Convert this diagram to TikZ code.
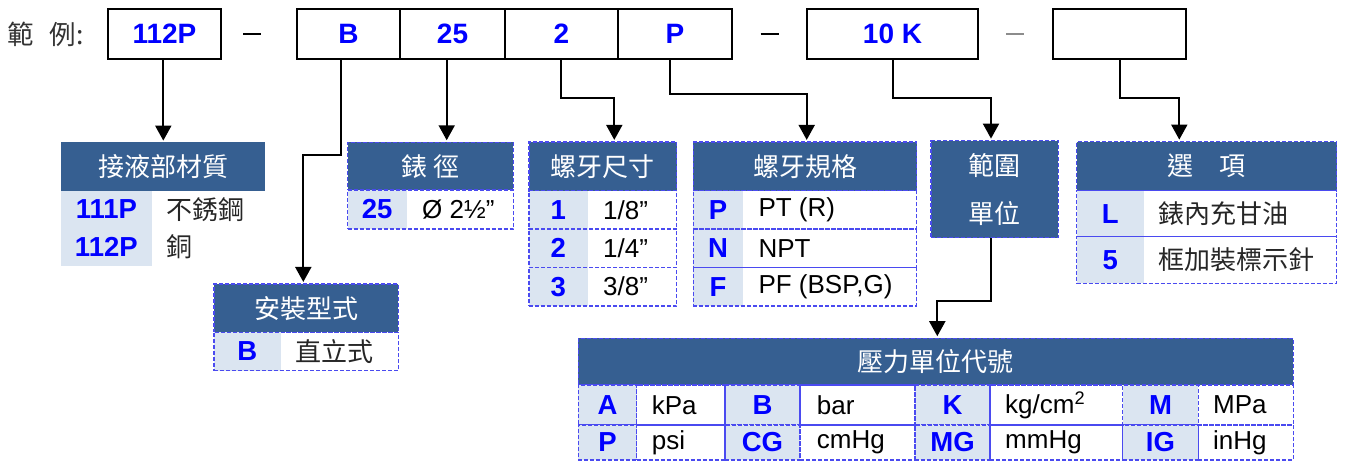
\documentclass[tikz,border=0pt]{standalone}
\usepackage{fontspec}
\setmainfont{Liberation Sans}
\newfontfamily\cjk{Noto Sans CJK TC}
\usetikzlibrary{arrows.meta}
\definecolor{hdrblue}{HTML}{365F91}
\definecolor{codefill}{HTML}{DBE5F1}
\definecolor{codeblue}{HTML}{0000FF}
\definecolor{dashblue}{HTML}{4A4AF0}
\begin{document}
\begin{tikzpicture}[x=1pt,y=-1pt,
 topbox/.style={draw, line width=2.3pt, inner sep=0pt, minimum height=50pt, font=\bfseries\fontsize{28}{32}\selectfont, text=codeblue},
 hdr/.style={fill=hdrblue, text=white, inner sep=0pt, font=\cjk\fontsize{26}{30}\selectfont},
 drow/.style={draw=dashblue, dash pattern=on 4pt off 2pt, line width=1.2pt, inner sep=0pt},
 dhdr/.style={hdr, drow},
 codecell/.style={fill=codefill, text=codeblue, inner sep=0pt, font=\bfseries\fontsize{27.5}{30}\selectfont},
 valtxt/.style={anchor=west, inner sep=0pt, font=\fontsize{26}{30}\selectfont},
 cval/.style={valtxt, font=\cjk\fontsize{26}{30}\selectfont, text=black!85},
 arr/.style={line width=2pt, -{Triangle[width=16pt,length=15pt]}, shorten >=1.5pt},
]
\useasboundingbox (0,0) rectangle (1347,461);

% top code line
\node[font=\cjk\fontsize{26.5}{30}\selectfont, text=black!80, inner sep=0pt, anchor=west] (ex) at (7,34) {範\hspace{0.6em}例:};
\node[topbox, minimum width=113pt] (b112) at (164.5,34) {112P};
\node[topbox, minimum width=103pt] (bB) at (348.5,34) {B};
\node[topbox, minimum width=105pt] (b25) at (452.5,34) {25};
\node[topbox, minimum width=113pt] (b2) at (561.5,34) {2};
\node[topbox, minimum width=114pt] (bP) at (675,34) {P};
\node[topbox, minimum width=171pt] (b10K) at (892.5,34) {10 K};
\node[topbox, minimum width=133pt] (bE) at (1119.5,34) {};
\node[inner sep=0pt] (d1) at (252,34) {\rule{18pt}{1.8pt}};
\node[inner sep=0pt] (d2) at (769.5,34) {\rule{18pt}{1.8pt}};
\node[inner sep=0pt, text=black!45] (d3) at (1015,34) {\rule{18pt}{1.8pt}};

% table 1
\node[hdr, minimum width=204pt, minimum height=48.4pt] (h1) at (163,166.5) {接液部材質};
\node[codecell, minimum width=90.7pt, minimum height=37.5pt] (c1a) at (106.35,209.45) {111P};
\node[codecell, minimum width=90.7pt, minimum height=37.5pt] (c1b) at (106.35,246.95) {112P};
\node[cval] (v1a) at (166.7,209.45) {不銹鋼};
\node[cval] (v1b) at (166.7,246.95) {銅};

% table 2
\node[dhdr, minimum width=184.3pt, minimum height=48.3pt] (h2) at (306.2,308.2) {安裝型式};
\node[codecell, minimum width=66.7pt, minimum height=38.4pt] (c2) at (247.35,351.5) {B};
\node[drow, minimum width=184.3pt, minimum height=38.4pt] (r2) at (306.2,351.5) {};
\node[cval] (v2) at (295,351.5) {直立式};

% table 3
\node[dhdr, minimum width=165.6pt, minimum height=47.7pt] (h3) at (430.5,166.2) {錶 徑};
\node[codecell, minimum width=59pt, minimum height=39pt] (c3) at (377.2,209.5) {25};
\node[drow, minimum width=165.6pt, minimum height=39pt] (r3) at (430.5,209.5) {};
\node[valtxt] (v3) at (422,209.5) {Ø 2½”};

% table 4
\node[dhdr, minimum width=147.7pt, minimum height=48.7pt] (h4) at (602.85,166.35) {螺牙尺寸};
\node[codecell, minimum width=58.7pt, minimum height=38.3pt] (c4a) at (558.35,209.85) {1};
\node[codecell, minimum width=58.7pt, minimum height=38.3pt] (c4b) at (558.35,248.15) {2};
\node[codecell, minimum width=58.7pt, minimum height=38.7pt] (c4c) at (558.35,286.65) {3};
\node[drow, minimum width=147.7pt, minimum height=38.3pt] (r4a) at (602.85,209.85) {};
\node[drow, minimum width=147.7pt, minimum height=38.3pt] (r4b) at (602.85,248.15) {};
\node[drow, minimum width=147.7pt, minimum height=38.7pt] (r4c) at (602.85,286.65) {};
\node[valtxt] (v4a) at (603,209.85) {1/8”};
\node[valtxt] (v4b) at (603,248.15) {1/4”};
\node[valtxt] (v4c) at (603,286.65) {3/8”};

% table 5
\node[dhdr, minimum width=223.4pt, minimum height=48.7pt] (h5) at (805,166.35) {螺牙規格};
\node[codecell, minimum width=49.4pt, minimum height=38.3pt] (c5a) at (718,209.85) {P};
\node[codecell, minimum width=49.4pt, minimum height=38.3pt] (c5b) at (718,248.15) {N};
\node[codecell, minimum width=49.4pt, minimum height=38.7pt] (c5c) at (718,286.65) {F};
\node[drow, minimum width=223.4pt, minimum height=38.3pt] (r5a) at (805,209.85) {};
\node[drow, minimum width=223.4pt, minimum height=38.3pt] (r5b) at (805,248.15) {};
\node[drow, minimum width=223.4pt, minimum height=38.7pt] (r5c) at (805,286.65) {};
\node[valtxt] (v5a) at (758.3,209.85) {PT (R)};
\node[valtxt] (v5b) at (758.3,248.15) {NPT};
\node[valtxt] (v5c) at (758.3,286.65) {PF (BSP,G)};

% table 6
\node[dhdr, minimum width=127.3pt, minimum height=97pt, align=center, font=\cjk\fontsize{26}{47.7}\selectfont] (h6) at (994.65,189.2) {範圍\\單位};

% table 7
\node[dhdr, minimum width=260pt, minimum height=49pt] (h7) at (1206.7,166.2) {選\hspace{1em}項};
\node[codecell, minimum width=67.3pt, minimum height=46.3pt] (c7a) at (1110.35,213.7) {L};
\node[codecell, minimum width=67.3pt, minimum height=46.3pt] (c7b) at (1110.35,260) {5};
\node[drow, minimum width=260pt, minimum height=46.3pt] (r7a) at (1206.7,213.7) {};
\node[drow, minimum width=260pt, minimum height=46.3pt] (r7b) at (1206.7,260) {};
\node[cval] (v7a) at (1158.3,213.7) {錶內充甘油};
\node[cval] (v7b) at (1158.3,260) {框加裝標示針};

% table 8
\node[dhdr, minimum width=715pt, minimum height=46.7pt] (h8) at (935.8,361.65) {壓力單位代號};
\foreach \cx/\w/\name/\ta/\tb in {607.5/58.4/p1/A/P, 762.5/75/p2/B/CG, 952.5/75/p3/K/MG, 1160.5/75.6/p4/M/IG}{
  \node[codecell, drow, minimum width=\w pt, minimum height=40pt] (\name a) at (\cx,405) {\ta};
  \node[codecell, drow, minimum width=\w pt, minimum height=35pt] (\name b) at (\cx,442.5) {\tb};
}
\foreach \cx/\w/\name in {680.85/88.3/q1, 857.5/115/q2, 1056.35/132.7/q3, 1245.8/95/q4}{
  \node[drow, minimum width=\w pt, minimum height=40pt] (\name a) at (\cx,405) {};
  \node[drow, minimum width=\w pt, minimum height=35pt] (\name b) at (\cx,442.5) {};
}
\node[valtxt] (t1a) at (651.7,405) {kPa};
\node[valtxt] (t1b) at (651.7,442.5) {psi};
\node[valtxt] (t2a) at (816.7,405) {bar};
\node[valtxt] (t2b) at (816.7,442.5) {cmHg};
\node[valtxt] (t3a) at (1005,405) {kg/cm\textsuperscript{2}};
\node[valtxt] (t3b) at (1005,442.5) {mmHg};
\node[valtxt] (t4a) at (1213,405) {MPa};
\node[valtxt] (t4b) at (1213,442.5) {inHg};

% connectors
\draw[arr] ([xshift=-1.2pt]b112.south) -- ([xshift=-1.2pt]b112.south |- h1.north);
\draw[arr] ([xshift=-7.8pt]bB.south) -- ++(0,95) -| ([xshift=-2.9pt]h2.north);
\draw[arr] ([xshift=-5.8pt]b25.south) -- ([xshift=-5.8pt]b25.south |- h3.north);
\draw[arr] ([xshift=-0.8pt]b2.south) -- ++(0,38) -| ([xshift=11.45pt]h4.north);
\draw[arr] ([xshift=-5pt]bP.south) -- ++(0,34.3) -| ([xshift=1.7pt]h5.north);
\draw[arr] (b10K.south) -- ++(0,38) -| ([xshift=-3.65pt]h6.north);
\draw[arr] (bE.south) -- ++(0,38) -| ([xshift=-27.4pt]h7.north);
\draw[arr] ([xshift=-4pt]h6.south) -- ++(0,62.3) -| ([xshift=1.5pt]h8.north);
\end{tikzpicture}
\end{document}
